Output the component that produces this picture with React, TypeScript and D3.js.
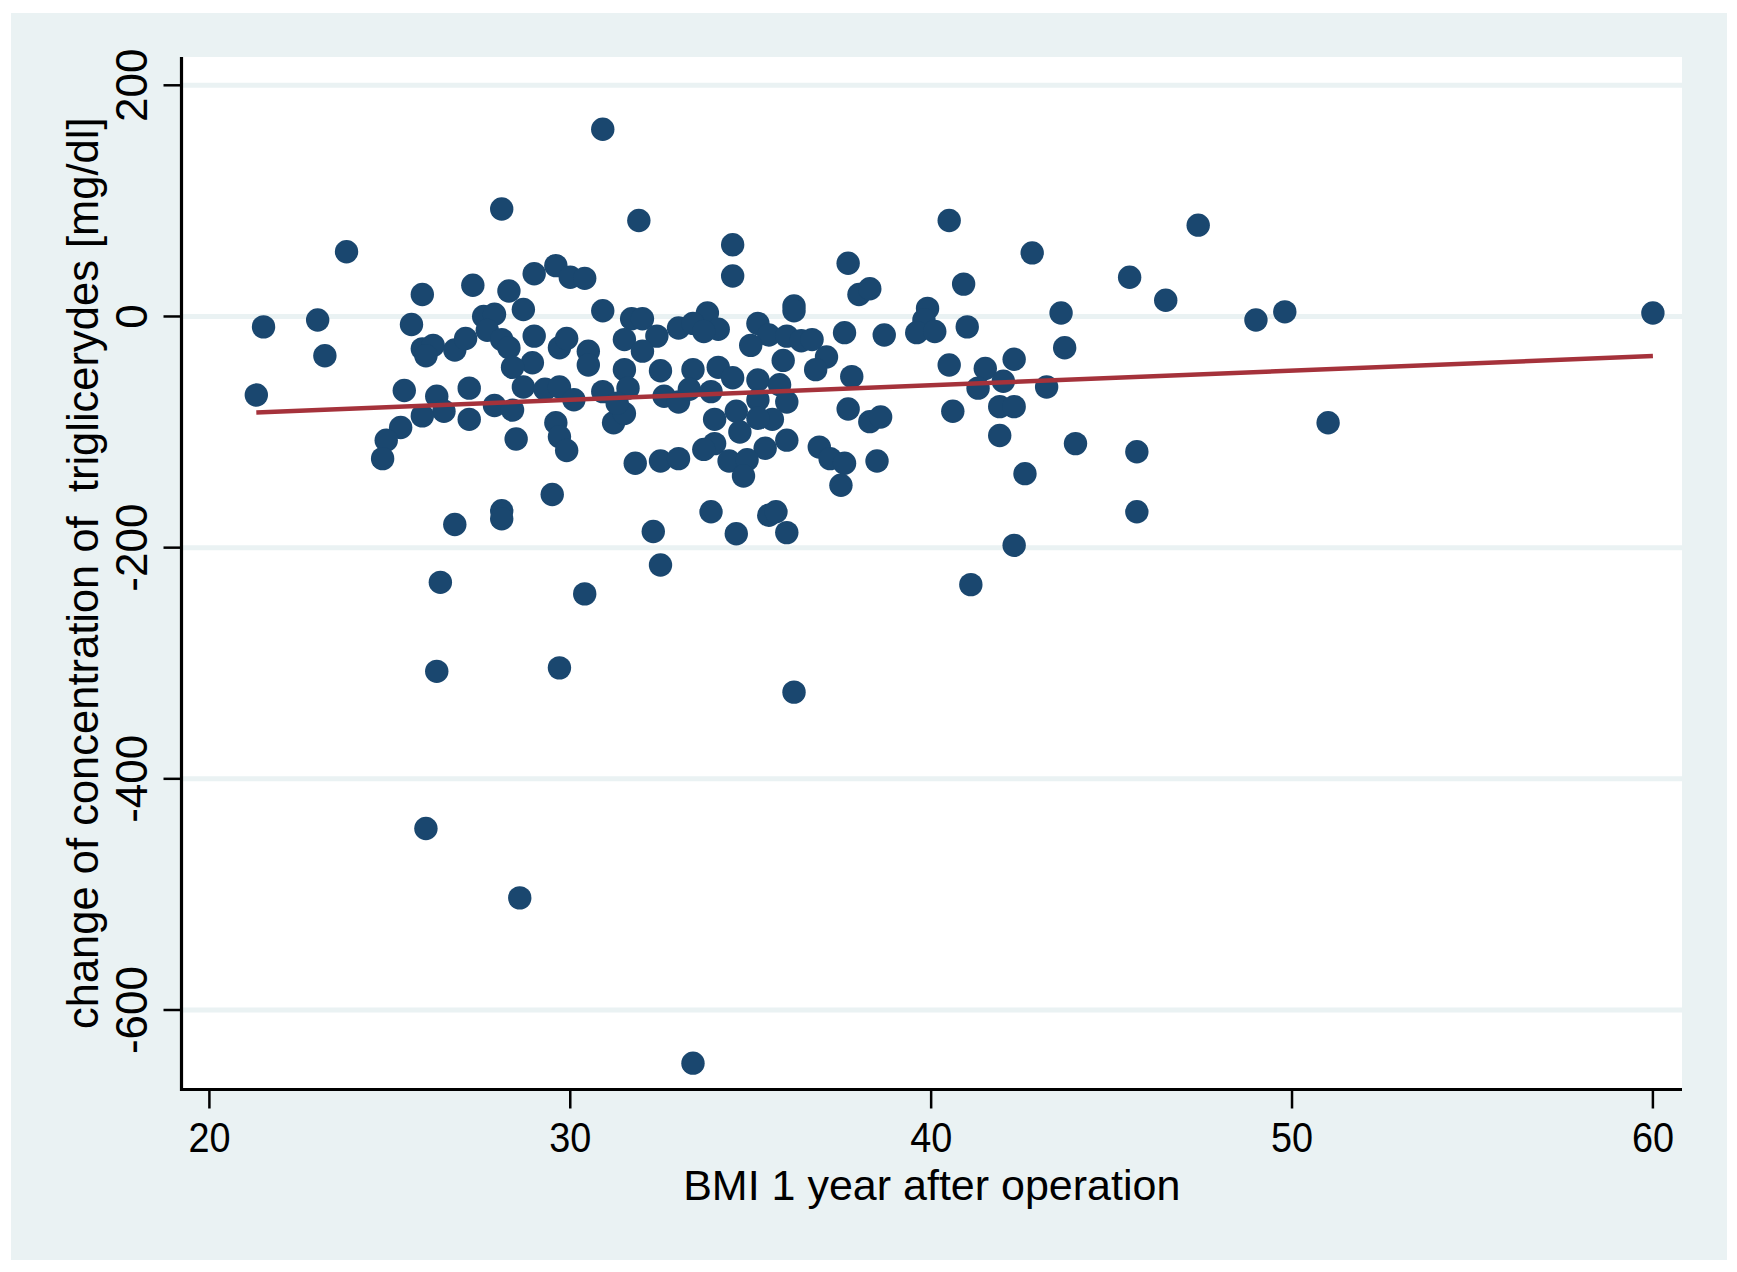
import React, { useEffect, useRef } from 'react';
import * as d3 from 'd3';

// BMI one year after the operation, and change of triglycerides (mg/dl)
const bmi = [
  30.9, 28.1, 31.9, 23.8, 25.9, 27.3, 28.3, 29.0, 29.6, 30.0, 30.4, 28.7, 30.9, 21.5, 23.0, 23.2,
  25.6, 27.6, 27.9, 31.7, 32.0, 33.0, 31.5, 32.4, 32.0, 31.5, 32.5, 25.9, 26.2, 26.0, 26.8, 27.1,
  27.7, 28.1, 28.3, 29.0, 28.95, 29.7, 29.9, 30.5, 30.5, 28.4,
  34.5, 34.5, 40.5, 42.8, 37.7, 38.0, 38.3, 40.9, 45.5, 46.5, 36.2, 36.2, 39.9, 39.8, 39.6, 40.1,
  41.0, 43.6, 43.7, 42.3, 40.5, 41.5, 37.6, 38.7, 33.8, 33.4, 34.1, 33.7, 35.2, 35.5, 35.0, 36.0,
  36.4, 36.7, 35.9, 37.1, 33.4, 34.1, 36.8, 37.8,
  47.4, 49.0, 49.8, 60.0, 51.0,
  21.3, 25.4, 26.3, 26.5, 25.9, 27.2, 27.2, 27.9, 28.4, 25.3, 24.9, 24.8, 28.5, 28.7, 29.3, 29.7,
  30.1, 29.6, 29.7, 29.9, 30.9, 31.6, 31.2, 31.5, 31.3, 32.6, 33.0, 31.8, 32.5, 33.0, 29.5, 28.1,
  28.1, 26.8, 32.3, 32.5, 26.4, 30.4,
  34.5, 35.2, 35.8, 33.3, 33.9, 34.0, 34.6, 35.2, 36.0, 35.6, 35.2, 34.7, 36.0, 35.4, 34.0, 33.7,
  34.4, 34.9, 34.8, 37.7, 38.3, 38.6, 36.9, 37.2, 37.6, 37.5, 38.5, 33.9, 35.5, 35.7, 36.0, 34.6,
  41.3, 42.0, 43.2, 40.6, 41.9, 42.3, 41.9, 44.0, 45.7, 42.6, 45.7, 42.3, 41.1,
  26.3, 29.7, 36.2, 26.0, 28.6, 33.4,
];

const dTg = [
  162, 93, 83, 56, 19, 27, 22, 37, 44, 34, 33, 6, 5, -9, -3, -34,
  -7, 0, 2, -2, -2, -10, -20, -17, -30, -46, -47, -28, -25, -34, -29, -19,
  -12, -20, -27, -17, -40, -27, -19, -30, -42, -44,
  62, 35, 83, 55, 46, 19, 24, 28, 34, 14, 9, 5, 7, -3, -14, -13,
  -9, 3, -27, -37, -42, -45, -14, -16, 3, -6, -11, -13, -6, -16, -25, -17,
  -21, -20, -38, -35, -46, -44, -46, -52,
  79, -3, 4, 3, -92,
  -68, -64, -69, -82, -86, -62, -89, -77, -81, -96, -107, -123, -106, -61, -63, -61,
  -72, -92, -104, -116, -65, -62, -92, -84, -75, -69, -74, -127, -125, -123, -154, -168,
  -175, -180, -186, -215, -230, -240,
  -53, -55, -59, -63, -65, -89, -82, -72, -74, -89, -88, -100, -107, -114, -110, -115,
  -125, -124, -138, -80, -91, -87, -113, -123, -127, -146, -125, -169, -172, -169, -187, -188,
  -62, -56, -61, -82, -78, -78, -103, -110, -117, -136, -169, -198, -232,
  -307, -304, -325, -443, -503, -646,
];

// fitted values (linear fit) at the ends of the BMI range
const fitBmi = [21.3, 60.0];
const fitTg = [-83, -34.3];

const xTicks = [20, 30, 40, 50, 60];
const yTicks = [200, 0, -200, -400, -600];

const W = 1737;
const H = 1272;
const FONT = '"Liberation Sans", Arial, sans-serif';

export default function App() {
  const svgRef = useRef<SVGSVGElement>(null);

  useEffect(() => {
    if (!svgRef.current) return;
    const svg = d3.select(svgRef.current);
    svg.selectAll('*').remove();

    const plot = { left: 181.5, top: 57, right: 1682, bottom: 1089.5 };
    const bg = '#eaf2f3';

    const x = d3.scaleLinear().domain([20, 60]).range([209.4, 1652.9]);
    const y = d3.scaleLinear().domain([200, -600]).range([85.3, 1010]);

    // outer panel
    svg.append('rect')
      .attr('x', 11).attr('y', 13)
      .attr('width', 1716).attr('height', 1247)
      .attr('fill', bg);

    // plot region
    svg.append('rect')
      .attr('x', plot.left).attr('y', plot.top)
      .attr('width', plot.right - plot.left).attr('height', plot.bottom - plot.top)
      .attr('fill', '#ffffff');

    // grid lines
    svg.append('g')
      .selectAll('line')
      .data(yTicks)
      .enter()
      .append('line')
      .attr('x1', plot.left).attr('x2', plot.right)
      .attr('y1', d => y(d)).attr('y2', d => y(d))
      .attr('stroke', bg)
      .attr('stroke-width', 5);

    // points
    const pts = bmi.map((b, i) => ({ b, t: dTg[i] }));
    svg.append('g')
      .selectAll('circle')
      .data(pts)
      .enter()
      .append('circle')
      .attr('cx', d => x(d.b))
      .attr('cy', d => y(d.t))
      .attr('r', 11.7)
      .attr('fill', '#1a476f');

    // fit line
    const line = d3.line<number>()
      .x((_, i) => x(fitBmi[i]))
      .y(d => y(d));
    svg.append('path')
      .attr('d', line(fitTg) || '')
      .attr('fill', 'none')
      .attr('stroke', '#a5323b')
      .attr('stroke-width', 4.5);

    // axes
    svg.append('line')
      .attr('x1', plot.left).attr('x2', plot.left)
      .attr('y1', plot.top).attr('y2', plot.bottom + 1.5)
      .attr('stroke', '#000').attr('stroke-width', 3.2);
    svg.append('line')
      .attr('x1', plot.left - 1.5).attr('x2', plot.right)
      .attr('y1', plot.bottom).attr('y2', plot.bottom)
      .attr('stroke', '#000').attr('stroke-width', 3);

    const yt = svg.append('g');
    yt.selectAll('line')
      .data(yTicks)
      .enter()
      .append('line')
      .attr('x1', plot.left - 18).attr('x2', plot.left)
      .attr('y1', d => y(d)).attr('y2', d => y(d))
      .attr('stroke', '#000').attr('stroke-width', 2.5);
    yt.selectAll('text')
      .data(yTicks)
      .enter()
      .append('text')
      .attr('transform', d => `translate(146.5,${y(d)}) rotate(-90)`)
      .attr('text-anchor', 'middle')
      .style('font-family', FONT)
      .style('font-size', '44px')
      .attr('fill', '#000')
      .text(d => d3.format('d')(d).replace('−', '-'));

    // x tick labels are a little narrower in the original
    const xt = svg.append('g');
    xt.selectAll('line')
      .data(xTicks)
      .enter()
      .append('line')
      .attr('x1', d => x(d)).attr('x2', d => x(d))
      .attr('y1', plot.bottom).attr('y2', plot.bottom + 19)
      .attr('stroke', '#000').attr('stroke-width', 2.5);
    xt.selectAll('text')
      .data(xTicks)
      .enter()
      .append('text')
      .attr('transform', d => `translate(${x(d)},1152) scale(0.9,1)`)
      .attr('text-anchor', 'middle')
      .style('font-family', FONT)
      .style('font-size', '42px')
      .attr('fill', '#000')
      .text(d => String(d));

    // titles
    svg.append('text')
      .attr('x', (plot.left + plot.right) / 2)
      .attr('y', 1200)
      .attr('text-anchor', 'middle')
      .style('font-family', FONT)
      .style('font-size', '43px')
      .attr('fill', '#000')
      .text('BMI 1 year after operation');

    svg.append('text')
      .attr('transform', `translate(98,${(plot.top + plot.bottom) / 2}) rotate(-90)`)
      .attr('text-anchor', 'middle')
      .style('font-family', FONT)
      .style('font-size', '43.5px')
      .style('white-space', 'pre')
      .attr('fill', '#000')
      .text('change of concentration of  triglicerydes [mg/dl]');
  }, []);

  return (
    <svg
      ref={svgRef}
      width={W}
      height={H}
      viewBox={`0 0 ${W} ${H}`}
      style={{ position: 'absolute', left: 0, top: 0, background: '#ffffff' }}
    />
  );
}
